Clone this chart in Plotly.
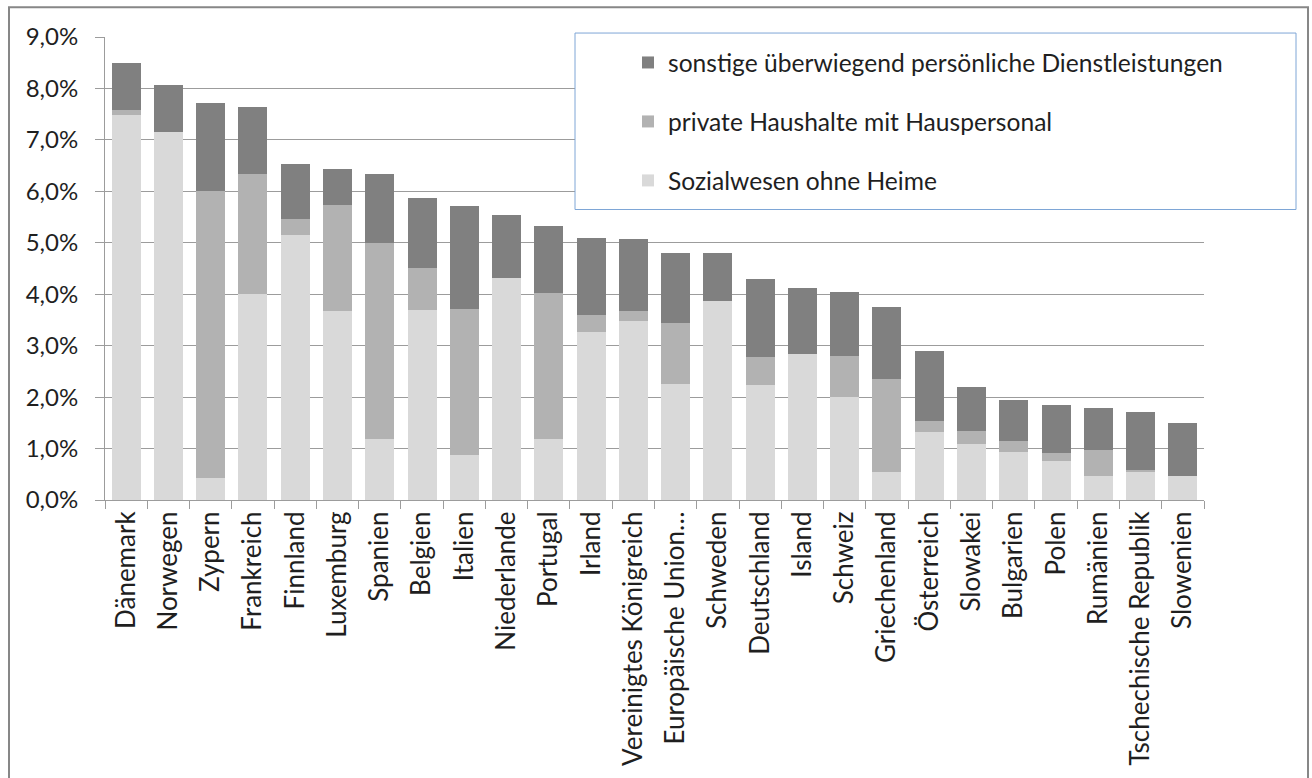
import plotly.graph_objects as go

countries = ["Dänemark", "Norwegen", "Zypern", "Frankreich", "Finnland", "Luxemburg",
             "Spanien", "Belgien", "Italien", "Niederlande", "Portugal", "Irland",
             "Vereinigtes Königreich", "Europäische Union…", "Schweden", "Deutschland",
             "Island", "Schweiz", "Griechenland", "Österreich", "Slowakei", "Bulgarien",
             "Polen", "Rumänien", "Tschechische Republik", "Slowenien"]

# values in percent
sozialwesen = [7.48, 7.16, 0.42, 4.00, 5.15, 3.67, 1.18, 3.70, 0.88, 4.32, 1.18, 3.26,
               3.47, 2.26, 3.87, 2.24, 2.83, 2.00, 0.54, 1.33, 1.08, 0.93, 0.76, 0.46,
               0.54, 0.46]
haushalte = [0.11, 0.00, 5.58, 2.34, 0.32, 2.07, 3.82, 0.81, 2.84, 0.00, 2.84, 0.34,
             0.20, 1.19, 0.00, 0.54, 0.00, 0.79, 1.82, 0.21, 0.27, 0.22, 0.15, 0.52,
             0.05, 0.00]
sonstige = [0.90, 0.90, 1.71, 1.30, 1.06, 0.69, 1.33, 1.37, 2.00, 1.22, 1.30, 1.50,
            1.40, 1.35, 0.93, 1.52, 1.30, 1.25, 1.40, 1.36, 0.84, 0.79, 0.93, 0.81,
            1.13, 1.04]

series = [
    ("Sozialwesen ohne Heime", sozialwesen, "#d9d9d9", 3),
    ("private Haushalte mit Hauspersonal", haushalte, "#b2b2b2", 2),
    ("sonstige überwiegend persönliche Dienstleistungen", sonstige, "#808080", 1),
]

FONT = "Lato, Carlito, Calibri, sans-serif"
TXT = "#1f1f1f"

fig = go.Figure()
for i, (name, vals, col, rank) in enumerate(series):
    fig.add_trace(go.Bar(
        x=countries, y=[v / 100 for v in vals], name=name,
        marker=dict(color=col, line=dict(width=0)),
        legendgroup=f"g{i}", legendrank=rank,
    ))

W, H = 1312, 778
L, R, T, B = 105, 1204, 37, 504

def px(x):
    return (x - L) / (R - L)

def py(y):
    return (B - y) / (B - T)

fig.update_layout(
    width=W, height=H,
    margin=dict(l=L, r=W - R, t=T, b=H - B),
    barmode="stack", bargap=0.314,
    paper_bgcolor="white", plot_bgcolor="white",
    separators=",.",
    font=dict(family=FONT, size=24, color=TXT),
    legend=dict(
        x=px(628), y=py(40), xanchor="left", yanchor="top",
        traceorder="grouped", tracegroupgap=24,
        bgcolor="rgba(0,0,0,0)", borderwidth=0,
        font=dict(family=FONT, size=24.6, color=TXT),
    ),
    shapes=[
        dict(type="rect", xref="paper", yref="paper",
             x0=px(575), x1=px(1296), y0=py(211), y1=py(33),
             line=dict(color="#7ea6d6", width=1), fillcolor="white", layer="above"),
        dict(type="rect", xref="paper", yref="paper",
             x0=px(9), x1=px(1308), y0=py(800), y1=py(7),
             line=dict(color="#878787", width=2), fillcolor="rgba(0,0,0,0)", layer="above"),
    ],
)

fig.update_yaxes(
    range=[0, 0.09], dtick=0.01, tickformat=".1%",
    showgrid=True, gridcolor="#9c9c9c", gridwidth=1,
    showline=True, linecolor="#9c9c9c", linewidth=1,
    ticks="outside", ticklen=9, tickcolor="#9c9c9c",
    ticklabelstandoff=12,
    tickfont=dict(family=FONT, size=24, color=TXT),
    zeroline=False,
)
fig.update_xaxes(
    tickangle=-90, tickson="boundaries",
    showline=True, linecolor="#9c9c9c", linewidth=1,
    ticks="outside", ticklen=8, tickcolor="#9c9c9c",
    tickfont=dict(family=FONT, size=26, color=TXT),
    showgrid=False,
)

fig.write_html("out.html",
               config={"displayModeBar": False},
               post_script="document.body.style.margin='0px';document.body.style.overflow='hidden';")
